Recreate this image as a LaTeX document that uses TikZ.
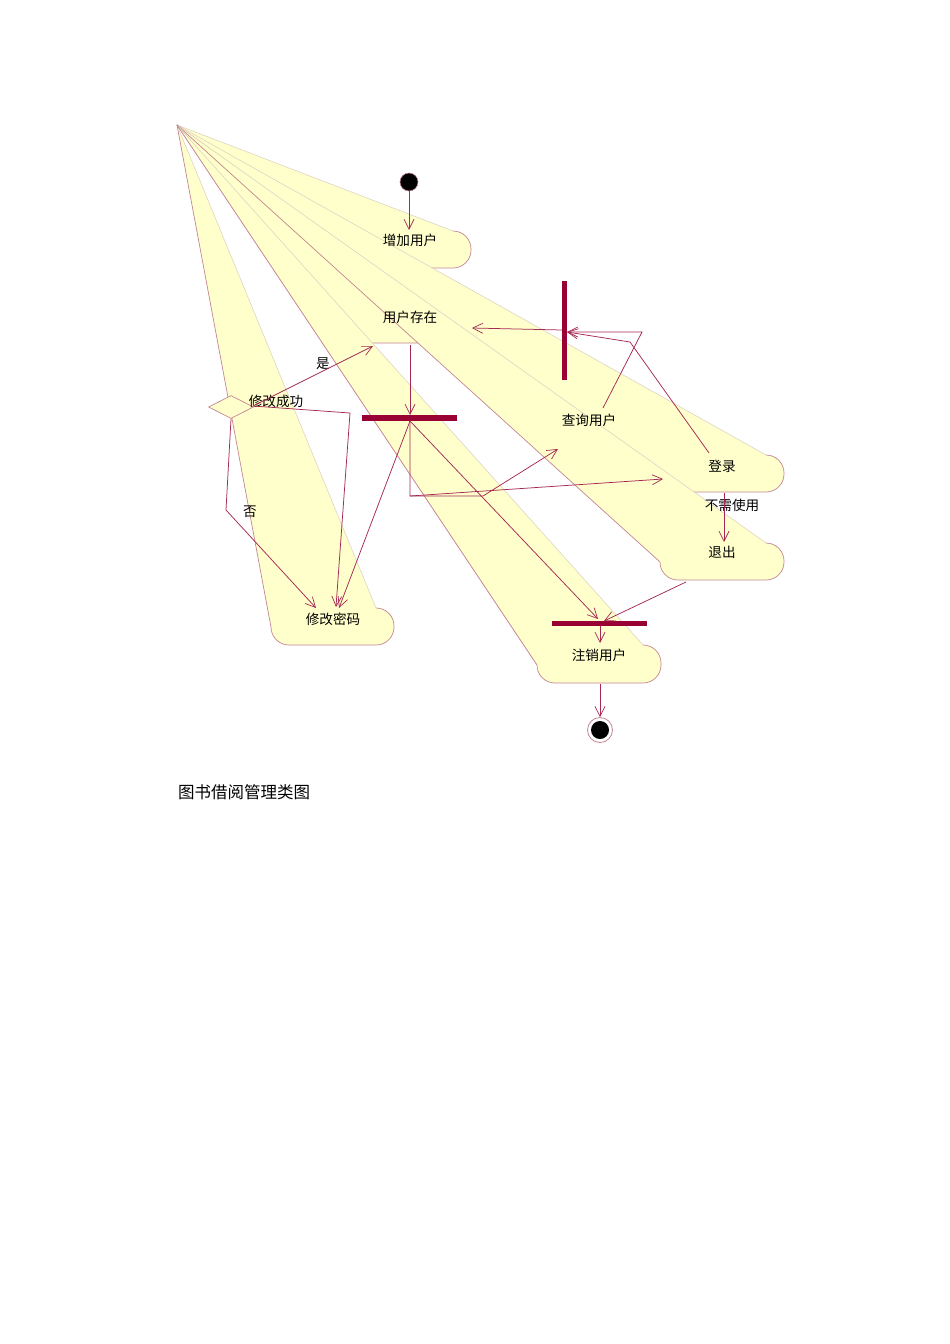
\documentclass[tikz,border=0pt]{standalone}
\usepackage{fontspec}
\newfontfamily\cjk{Noto Sans CJK SC}
\usetikzlibrary{arrows.meta,shapes.geometric}
\definecolor{actfill}{RGB}{255,255,204}
\definecolor{actline}{RGB}{196,132,146}
\definecolor{topline}{RGB}{222,212,196}
\definecolor{conn}{RGB}{165,40,85}
\definecolor{barc}{RGB}{153,0,51}
\newcommand\actshape[4]{%
  \fill[actfill] (A) -- ({#2-18},#3) .. controls ({#2-8},#3) and (#2,{#3+8}) .. (#2,{#3+18})
    -- (#2,{#4-18}) .. controls (#2,{#4-8}) and ({#2-8},#4) .. ({#2-18},#4)
    -- ({#1+18},#4) .. controls ({#1+8},#4) and (#1,{#4-8}) .. (#1,{#4-18}) -- cycle;
  \draw[topline, line width=0.6pt] (A) -- ({#2-18},#3);
  \draw[actline, line width=0.7pt] ({#2-18},#3) .. controls ({#2-8},#3) and (#2,{#3+8}) .. (#2,{#3+18})
    -- (#2,{#4-18}) .. controls (#2,{#4-8}) and ({#2-8},#4) .. ({#2-18},#4)
    -- ({#1+18},#4) .. controls ({#1+8},#4) and (#1,{#4-8}) .. (#1,{#4-18}) -- (A);
}
\begin{document}
\begin{tikzpicture}[x=1pt,y=-1pt,
  lbl/.style={font=\cjk\fontsize{13.6}{16}\selectfont, inner sep=0pt},
  cline/.style={draw=conn, line width=0.75pt},
  carrow/.style={cline, -{Straight Barb[length=10pt,width=10pt,line width=0.7pt]}},
  barnode/.style={fill=barc, draw=none, inner sep=0pt, rectangle}
]
\useasboundingbox (0,0) rectangle (950,1344);
\coordinate (A) at (177,125);
% activity shapes (left corners collapsed onto the apex)
\actshape{528}{650}{401}{438}% 查询用户
\actshape{349}{471}{231}{268}% 增加用户
\actshape{349}{471}{306}{343}% 用户存在
\actshape{271}{394}{608}{645}% 修改密码
\actshape{660}{784}{455}{492}% 登录
\actshape{660}{784}{543}{580}% 退出
\actshape{537}{661}{645}{683}% 注销用户

% decision
\node[diamond, aspect=2, draw=actline, fill=actfill, line width=0.7pt, minimum width=45pt, minimum height=23pt, inner sep=0pt] (dec) at (231,407) {};

% bars
\node[barnode, minimum width=95pt, minimum height=6pt] (fork) at (409.5,418) {};
\node[barnode, minimum width=5pt, minimum height=99pt] (vbar) at (564,330.5) {};
\node[barnode, minimum width=95pt, minimum height=5pt] (join) at (599.5,623) {};

% start / end
\node[circle, fill=black, draw=actline, line width=0.6pt, minimum size=18pt, inner sep=0pt] (start) at (409,182) {};
\node[circle, fill=white, draw=actline, line width=0.8pt, minimum size=25pt, inner sep=0pt] (endo) at (600,730) {};
\node[circle, fill=black, minimum size=18pt, inner sep=0pt] (endi) at (600,730) {};

% labels
\node[lbl] (add) at (410,240) {增加用户};
\node[lbl] (exist) at (410,317) {用户存在};
\node[lbl] (decl) at (276,401) {修改成功};
\node[lbl] (yes) at (323,364) {是};
\node[lbl] (no) at (250,512) {否};
\node[lbl] (query) at (589,420) {查询用户};
\node[lbl] (login) at (722,466) {登录};
\node[lbl] (noneed) at (732,505) {不需使用};
\node[lbl] (quit) at (722,552) {退出};
\node[lbl] (pwd) at (333,619) {修改密码};
\node[lbl] (cancel) at (599,655) {注销用户};
\node[font=\cjk\fontsize{16.5}{19}\selectfont, inner sep=0pt, anchor=west] (cap) at (178,792) {图书借阅管理类图};

% connector end points
\coordinate (addTop) at (409,230);
\coordinate (existBot) at (410,345);
\coordinate (forkTop) at (410,415);
\coordinate (forkBot) at (410,421);
\coordinate (forkK) at (410,496);
\coordinate (forkM) at (483,496);
\coordinate (queryIn) at (558,449);
\coordinate (loginIn) at (663,479);
\coordinate (pwdIn1) at (316,608);
\coordinate (pwdIn2) at (336,607);
\coordinate (pwdIn3) at (339,608);
\coordinate (joinIn1) at (598,619);
\coordinate (joinIn2) at (604,621);
\coordinate (existIn1) at (373,346);
\coordinate (existIn2) at (472,328);
\coordinate (decR) at (253,406);
\coordinate (decK) at (350,413);
\coordinate (decB) at (231,419);
\coordinate (decN) at (226,510);
\coordinate (vbarL) at (562,330);
\coordinate (vbarIn) at (567,332);
\coordinate (queryOut) at (603,408);
\coordinate (queryK) at (642,332);
\coordinate (loginOut) at (709,453);
\coordinate (loginK) at (630,342);
\coordinate (loginBot) at (724,493);
\coordinate (quitTop) at (724,542);
\coordinate (quitOut) at (686,582);
\coordinate (joinOut) at (600,626);
\coordinate (cancelTop) at (600,643);
\coordinate (cancelBot) at (600,684);

% connectors
\draw[carrow] (start) -- (addTop);
\draw[carrow] (existBot) -- (forkTop);
\draw[carrow] (forkBot) -- (forkK) -- (forkM) -- (queryIn);
\draw[carrow] (forkK) -- (loginIn);
\draw[carrow] (forkBot) -- (pwdIn3);
\draw[carrow] (forkBot) -- (joinIn1);
\draw[carrow] (decR) -- (existIn1);
\draw[carrow] (decR) -- (decK) -- (pwdIn2);
\draw[carrow] (decB) -- (decN) -- (pwdIn1);
\draw[carrow] (vbarL) -- (existIn2);
\draw[carrow] (queryOut) -- (queryK) -- (vbarIn);
\draw[carrow] (loginOut) -- (loginK) -- (vbarIn);
\draw[carrow] (loginBot) -- (quitTop);
\draw[carrow] (quitOut) -- (joinIn2);
\draw[carrow] (joinOut) -- (cancelTop);
\draw[carrow] (cancelBot) -- (endo);
\end{tikzpicture}
\end{document}
